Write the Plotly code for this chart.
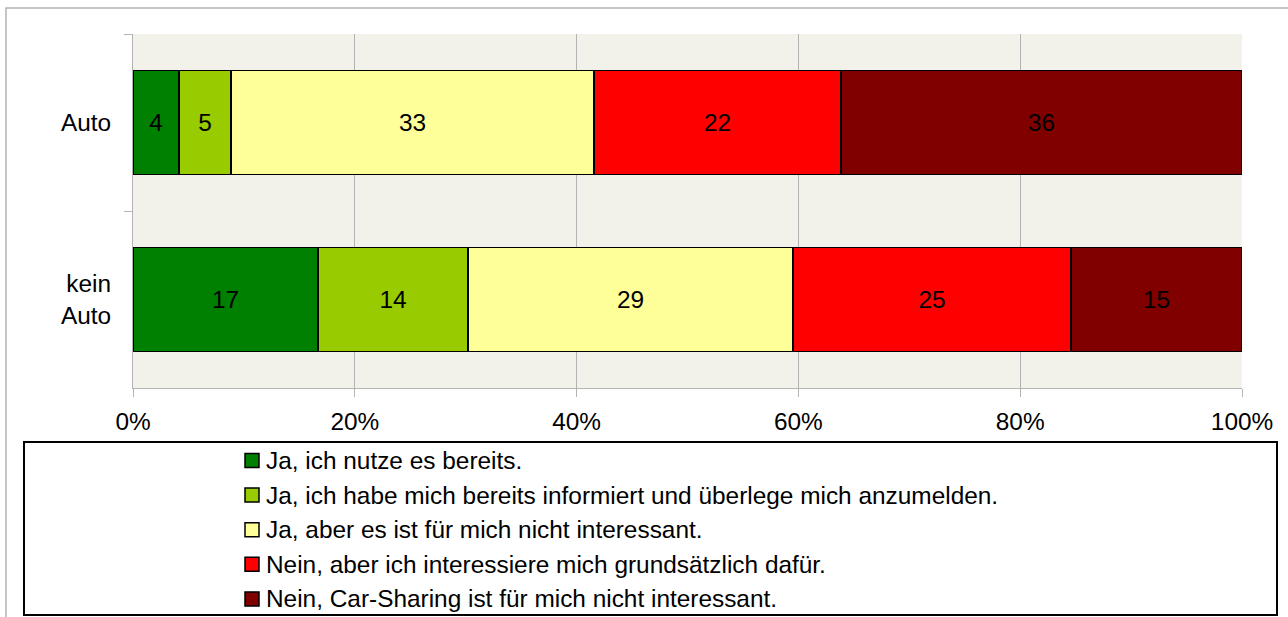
import plotly.graph_objects as go

# categories (top to bottom) and answer series, in percent
categories = ["Auto", "kein<br>Auto"]
answers = [
    "Ja, ich nutze es bereits.",
    "Ja, ich habe mich bereits informiert und überlege mich anzumelden.",
    "Ja, aber es ist für mich nicht interessant.",
    "Nein, aber ich interessiere mich grundsätzlich dafür.",
    "Nein, Car-Sharing ist für mich nicht interessant.",
]
nutze_bereits = [4.15, 16.68]
informiert = [4.69, 13.53]
nicht_interessant_ja = [32.73, 29.30]
grundsaetzlich_dafuer = [22.27, 25.07]
nicht_interessant_nein = [36.16, 15.42]
colours = ["#008000", "#99cc00", "#ffff99", "#ff0000", "#800000"]

series = [nutze_bereits, informiert, nicht_interessant_ja,
          grundsaetzlich_dafuer, nicht_interessant_nein]

W, H = 1288, 617
L, R, T, B = 133, 46, 34, 229
pw, ph = W - L - R, H - T - B


def px(x):
    return (x - L) / pw


def py(y):
    return (H - B - y) / ph


FONT = "Liberation Sans, Arial, sans-serif"
FS = 24.4

fig = go.Figure()
for i, (name, vals) in enumerate(zip(answers, series)):
    fig.add_trace(go.Bar(
        y=categories, x=vals, name=name, orientation="h",
        marker=dict(color=colours[i], line=dict(color="black", width=1.5)),
        text=vals, texttemplate="%{x:.0f}", textposition="inside",
        insidetextanchor="middle", textangle=0,
        textfont=dict(color="black", size=FS, family=FONT),
        showlegend=False,
    ))

shapes = [
    # outer chart frame (only top/left visible)
    dict(type="rect", xref="paper", yref="paper",
         x0=px(6), x1=px(1400), y0=py(700), y1=py(8),
         line=dict(color="#b3b3b3", width=1.5), layer="below"),
    # legend box
    dict(type="rect", xref="paper", yref="paper",
         x0=px(24), x1=px(1277), y0=py(615), y1=py(442),
         line=dict(color="black", width=2)),
]

# legend drawn by hand inside the box so it can be placed freely
annotations = []
for i, name in enumerate(answers):
    yc = 460.5 + i * 34.6
    shapes.append(dict(type="rect", xref="paper", yref="paper",
                       x0=px(245), x1=px(259), y0=py(yc + 7), y1=py(yc - 7),
                       fillcolor=colours[i], line=dict(color="black", width=1.5)))
    annotations.append(dict(xref="paper", yref="paper", x=px(264), y=py(yc),
                            xanchor="left", yanchor="middle", showarrow=False,
                            text=name, font=dict(size=FS, family=FONT)))

fig.update_layout(
    width=W, height=H, barmode="stack", bargap=0.41,
    margin=dict(l=L, r=R, t=T, b=B),
    paper_bgcolor="white", plot_bgcolor="#f2f1ea",
    font=dict(family=FONT, size=FS, color="black"),
    shapes=shapes, annotations=annotations,
    showlegend=False,
    xaxis=dict(range=[0, 100], dtick=20, ticksuffix="%", showgrid=True,
               gridcolor="#b3b3b3", gridwidth=1, showline=True,
               linecolor="#b3b3b3", ticks="outside", ticklen=8,
               tickcolor="#b3b3b3", zeroline=False,
               ticklabelstandoff=4, tickfont=dict(size=FS)),
    yaxis=dict(autorange="reversed", showgrid=False, showline=True,
               linecolor="#b3b3b3", ticks="outside", ticklen=8,
               tickcolor="#b3b3b3", tickson="boundaries",
               ticklabelstandoff=16, tickfont=dict(size=FS)),
)

fig.write_html("out.html", config={"displayModeBar": False},
               post_script="document.body.style.margin='0';")
